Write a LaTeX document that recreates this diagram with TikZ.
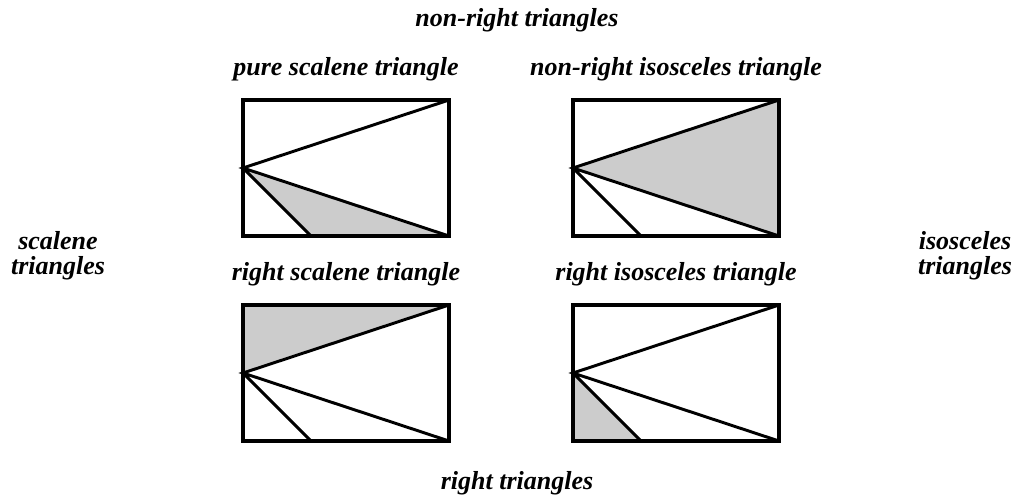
\documentclass[tikz,border=0pt]{standalone}
\usepackage{fontspec}
\setmainfont{Liberation Serif}
\usepackage{tikz}
\definecolor{lightfill}{HTML}{CCCCCC}
\newcommand{\lbl}{\bfseries\itshape\fontsize{19.5}{18.5}\selectfont}

\begin{document}
\begin{tikzpicture}[x=0.75pt,y=-0.75pt,font=\lbl,
  t/.style={align=center,inner sep=0pt},
  edge/.style={line width=2.2pt,line join=miter},
  frame/.style={line width=2.6pt}]
  \useasboundingbox (0,0) rectangle (1015,496);
  \foreach \px/\py/\n/\f in {
    243/100/pure scalene triangle/(l)--(b)--(br),
    573/100/non-right isosceles triangle/(l)--(tr)--(br),
    243/305/right scalene triangle/(tl)--(tr)--(l),
    573/305/right isosceles triangle/(l)--(bl)--(b)}
    {\begin{scope}[shift={(\px,\py)}]
      \coordinate (tl) at (0,0);   \coordinate (tr) at (206,0);
      \coordinate (bl) at (0,136); \coordinate (br) at (206,136);
      \coordinate (l) at (0,68);   \coordinate (b) at (68,136);
      \fill[lightfill] \f -- cycle;
      \draw[edge] (tr) -- (l) -- (br) (l) -- (b);
      \draw[frame] (tl) rectangle (br);
      \node[t] (lab) at (103,-31) {\n};
    \end{scope}}
  \node[t] (top) at (517,20) {non-right triangles};
  \node[t] (bottom) at (517,483) {right triangles};
  \node[t] (left) at (58,256) {scalene\\triangles};
  \node[t] (right) at (965,256) {isosceles\\triangles};
\end{tikzpicture}
\end{document}
